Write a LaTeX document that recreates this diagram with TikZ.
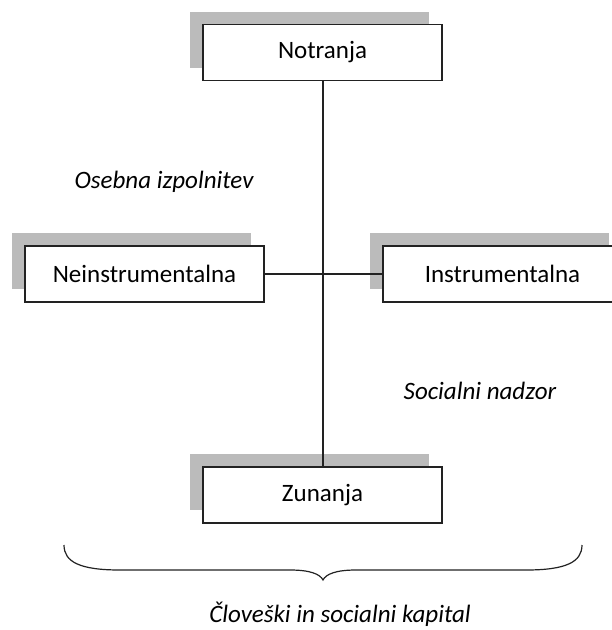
\documentclass[tikz,border=0pt]{standalone}
\usepackage{fontspec}
\setmainfont{Carlito}
\usetikzlibrary{shadows}
\definecolor{shadowgray}{HTML}{BBBBBB}
\definecolor{linegray}{HTML}{222222}
\begin{document}
\begin{tikzpicture}[x=1pt,y=-1pt,
  box/.style={draw=linegray, line width=1.2pt, fill=white, minimum width=239pt, minimum height=56pt, inner sep=0pt,
    font=\fontsize{25}{29}\selectfont,
    drop shadow={shadow xshift=-13pt, shadow yshift=13pt, fill=shadowgray, opacity=1}},
  lab/.style={font=\fontsize{25}{29}\selectfont\itshape, inner sep=0pt},
  conn/.style={draw=linegray, line width=1.2pt}]
\useasboundingbox (0,0) rectangle (612,630);
\node[box] (top) at (322.5,52.5) {Notranja};
\node[box] (left) at (144.5,274) {Neinstrumentalna};
\node[box] (right) at (502.5,274) {Instrumentalna};
\node[box] (bot) at (322.5,495) {Zunanja};
\coordinate (cx) at (323,274);
\draw[conn] (top.south -| cx) -- (bot.north -| cx);
\draw[conn] (left.east) -- (right.west);
\node[lab] (osebna) at (164,182) {Osebna izpolnitev};
\node[lab] (socialni) at (480,391) {Socialni nadzor};
\node[lab] (clovek) at (340,614) {Človeški in socialni kapital};
\draw[line width=1.2pt, linegray] (64,545) .. controls (64,562) and (80,570) .. (120,570) -- (290,570) .. controls (310,570) and (320,574) .. (323,580) .. controls (326,574) and (336,570) .. (356,570) -- (526,570) .. controls (566,570) and (582,562) .. (582,545);
\end{tikzpicture}
\end{document}
